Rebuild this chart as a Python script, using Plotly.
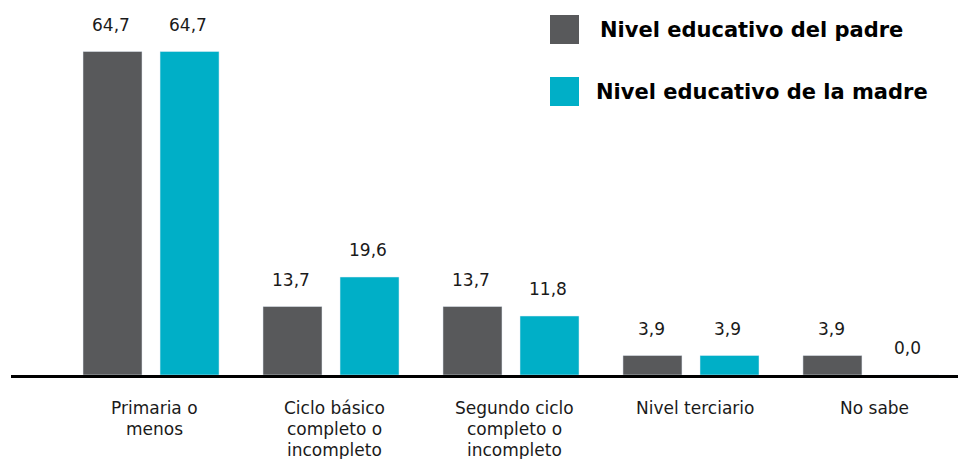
import plotly.graph_objects as go

categorias = ["Primaria o<br>menos", "Ciclo básico<br>completo o<br>incompleto",
              "Segundo ciclo<br>completo o<br>incompleto", "Nivel terciario", "No sabe"]
padre = [64.7, 13.7, 13.7, 3.9, 3.9]
madre = [64.7, 19.6, 11.8, 3.9, 0.0]
series = ["Nivel educativo del padre", "Nivel educativo de la madre"]
colores = ["#58595b", "#00afc7"]

FONT = "DejaVu Sans, Arial, sans-serif"
# the page body has an 8px margin, so the figure is sized to fit the window
W, H = 958, 451
L, B = 3, 84
PH = H - B  # plot height


def py(page_y):
    # page pixel row -> paper y
    return 1 - (page_y - 8) / PH


def px(page_x):
    return (page_x - 8 - L) / (W - L)


fig = go.Figure()
fig.add_trace(go.Bar(x=categorias, y=padre, name=series[0], marker_color=colores[0],
                     showlegend=False, offsetgroup="p"))
fig.add_trace(go.Bar(x=categorias, y=madre, name=series[1], marker_color=colores[1],
                     showlegend=False, offsetgroup="m"))

# value labels above each bar
fmt = lambda v: f"{v:.1f}".replace(".", ",")
for i, cat in enumerate(categorias):
    for vals, off in ((padre, -0.222), (madre, 0.205)):
        fig.add_annotation(x=i + off, y=vals[i], text=fmt(vals[i]), showarrow=False,
                           yanchor="middle", yshift=27,
                           font=dict(size=17, color="#1a1a1a"))

# category labels, one annotation per line to get the tight line spacing
for i, cat in enumerate(categorias):
    for j, line in enumerate(cat.split("<br>")):
        fig.add_annotation(x=i + 0.02, y=0, yref="paper", text=line, showarrow=False,
                           yanchor="middle", yshift=-(33 + 21 * j),
                           font=dict(size=17, color="#1a1a1a"))

# hand-made legend (big square swatches)
for k, (name, col) in enumerate(zip(series, colores)):
    y0 = 15 + k * 62
    fig.add_shape(type="rect", xref="paper", yref="paper",
                  x0=px(550), x1=px(579), y0=py(y0 + 29), y1=py(y0),
                  fillcolor=col, line_width=0, layer="above")
    fig.add_annotation(xref="paper", yref="paper", x=px(594) if k else px(598),
                       y=py(y0 + 15), xanchor="left", yanchor="middle",
                       text=f"<b>{name}</b>", showarrow=False,
                       font=dict(size=21, color="#000000"))

fig.update_layout(
    width=W, height=H,
    margin=dict(l=L, r=0, t=0, b=B),
    plot_bgcolor="white", paper_bgcolor="white",
    barmode="group", bargap=0.144, bargroupgap=0.234,
    font=dict(family=FONT, color="#1a1a1a"),
    xaxis=dict(range=[-0.778, 4.528], showline=True, linecolor="#000000", linewidth=3,
               showgrid=False, ticks="", showticklabels=False, automargin=False),
    yaxis=dict(range=[0, 73.4], visible=False, showgrid=False, automargin=False),
)

fig.write_html("out.html")
